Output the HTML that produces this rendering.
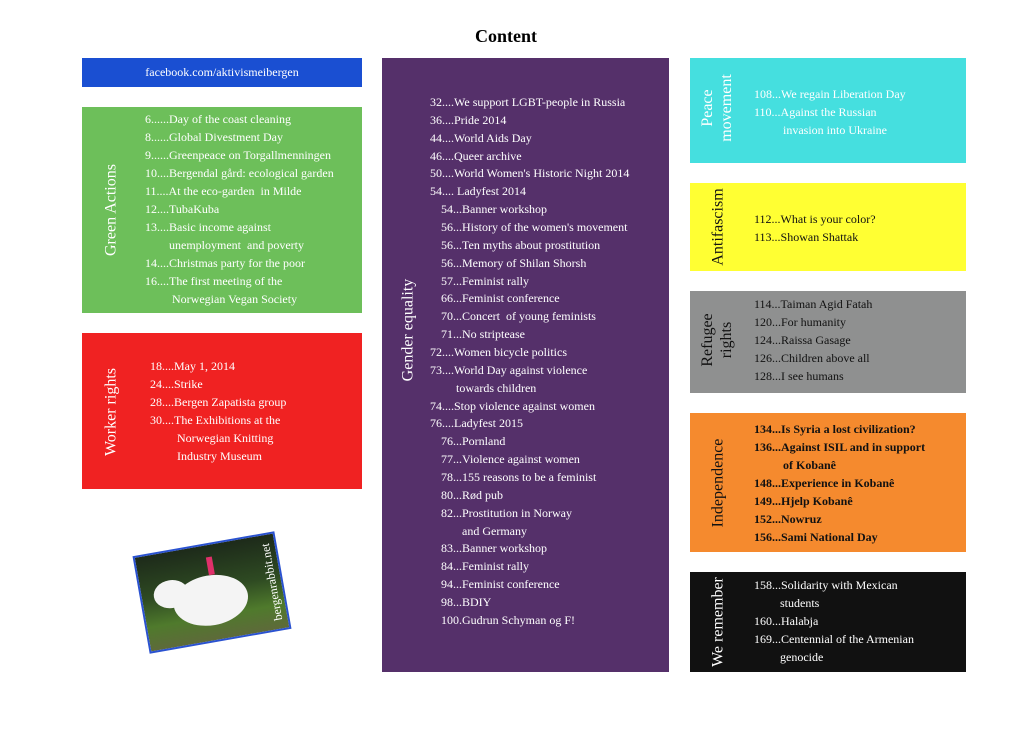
<!DOCTYPE html>
<html><head><meta charset="utf-8"><style>
body{margin:0;width:1024px;height:730px;background:#fff;position:relative;overflow:hidden;font-family:"Liberation Serif",serif;}
.b{position:absolute;}
.t{position:absolute;font-size:12px;line-height:18px;white-space:nowrap;}
.v{position:absolute;font-size:16px;line-height:19px;white-space:nowrap;text-align:center;transform:translate(-50%,-50%) rotate(-90deg);}
.w{color:#fff}.k{color:#111}
</style></head><body>
<div class="b" style="left:0;width:1012px;top:26px;text-align:center;font-size:18px;font-weight:bold">Content</div>

<div class="b" style="left:82px;top:58px;width:280px;height:29px;background:#1a4fd2;color:#fff;font-size:12px;line-height:29px;text-align:center">facebook.com/aktivismeibergen</div>

<div class="b" style="left:82px;top:107px;width:280px;height:206px;background:#6dbf5a"></div>
<div class="v w" style="left:111px;top:210px">Green Actions</div>
<div class="t w" style="left:145px;top:110px">6......Day of the coast cleaning<br>8......Global Divestment Day<br>9......Greenpeace on Torgallmenningen<br>10....Bergendal gård: ecological garden<br>11....At the eco-garden&nbsp; in Milde<br>12....TubaKuba<br>13....Basic income against<br><span style="padding-left:24px">unemployment&nbsp; and poverty</span><br>14....Christmas party for the poor<br>16....The first meeting of the<br><span style="padding-left:27px">Norwegian Vegan Society</span></div>

<div class="b" style="left:82px;top:333px;width:280px;height:156px;background:#f02222"></div>
<div class="v w" style="left:111px;top:412px">Worker rights</div>
<div class="t w" style="left:150px;top:357px">18....May 1, 2014<br>24....Strike<br>28....Bergen Zapatista group<br>30....The Exhibitions at the<br><span style="padding-left:27px">Norwegian Knitting</span><br><span style="padding-left:27px">Industry Museum</span></div>

<div class="b" style="left:140px;top:543px;width:140px;height:95px;transform:rotate(-10deg);background:linear-gradient(180deg,#1d2a1a 0%,#2e4a22 45%,#4f7a2c 75%,#5e6a3a 100%);border:2px solid #2a52d0;overflow:hidden">
<div style="position:absolute;left:30px;top:30px;width:75px;height:50px;background:#f4f4f4;border-radius:50%"></div>
<div style="position:absolute;left:12px;top:28px;width:35px;height:28px;background:#f4f4f4;border-radius:50%"></div>
<div style="position:absolute;left:70px;top:12px;width:6px;height:18px;background:#e0306a"></div>
<div style="position:absolute;right:-30px;top:40px;color:#fff;font-size:12px;transform:rotate(-90deg);white-space:nowrap">bergenrabbit.net</div>
</div>

<div class="b" style="left:382px;top:58px;width:287px;height:614px;background:#55306a"></div>
<div class="v w" style="left:408px;top:330px">Gender equality</div>
<div class="t w" style="left:430px;top:94px;line-height:17.86px">32....We support LGBT-people in Russia<br>36....Pride 2014<br>44....World Aids Day<br>46....Queer archive<br>50....World Women's Historic Night 2014<br>54.... Ladyfest 2014<br>
<span style="padding-left:11px">54...Banner workshop</span><br><span style="padding-left:11px">56...History of the women's movement</span><br><span style="padding-left:11px">56...Ten myths about prostitution</span><br><span style="padding-left:11px">56...Memory of Shilan Shorsh</span><br><span style="padding-left:11px">57...Feminist rally</span><br><span style="padding-left:11px">66...Feminist conference</span><br><span style="padding-left:11px">70...Concert&nbsp; of young feminists</span><br><span style="padding-left:11px">71...No striptease</span><br>72....Women bicycle politics<br>73....World Day against violence<br><span style="padding-left:26px">towards children</span><br>74....Stop violence against women<br>76....Ladyfest 2015<br>
<span style="padding-left:11px">76...Pornland</span><br><span style="padding-left:11px">77...Violence against women</span><br><span style="padding-left:11px">78...155 reasons to be a feminist</span><br><span style="padding-left:11px">80...Rød pub</span><br><span style="padding-left:11px">82...Prostitution in Norway</span><br><span style="padding-left:32px">and Germany</span><br><span style="padding-left:11px">83...Banner workshop</span><br><span style="padding-left:11px">84...Feminist rally</span><br><span style="padding-left:11px">94...Feminist conference</span><br><span style="padding-left:11px">98...BDIY</span><br><span style="padding-left:11px">100.Gudrun Schyman og F!</span></div>

<div class="b" style="left:690px;top:58px;width:276px;height:105px;background:#45dfdf"></div>
<div class="v w" style="left:717px;top:108px">Peace<br>movement</div>
<div class="t w" style="left:754px;top:85px">108...We regain Liberation Day<br>110...Against the Russian<br><span style="padding-left:29px">invasion into Ukraine</span></div>

<div class="b" style="left:690px;top:183px;width:276px;height:88px;background:#ffff33"></div>
<div class="v k" style="left:718px;top:227px">Antifascism</div>
<div class="t k" style="left:754px;top:210px">112...What is your color?<br>113...Showan Shattak</div>

<div class="b" style="left:690px;top:291px;width:276px;height:102px;background:#8f9090"></div>
<div class="v k" style="left:717px;top:340px">Refugee<br>rights</div>
<div class="t k" style="left:754px;top:295px">114...Taiman Agid Fatah<br>120...For humanity<br>124...Raissa Gasage<br>126...Children above all<br>128...I see humans</div>

<div class="b" style="left:690px;top:413px;width:276px;height:139px;background:#f58a2e"></div>
<div class="v k" style="left:718px;top:483px">Independence</div>
<div class="t k" style="left:754px;top:420px;font-weight:bold">134...Is Syria a lost civilization?<br>136...Against ISIL and in support<br><span style="padding-left:29px">of Kobanê</span><br>148...Experience in Kobanê<br>149...Hjelp Kobanê<br>152...Nowruz<br>156...Sami National Day</div>

<div class="b" style="left:690px;top:572px;width:276px;height:100px;background:#111"></div>
<div class="v w" style="left:718px;top:622px">We remember</div>
<div class="t w" style="left:754px;top:576px">158...Solidarity with Mexican<br><span style="padding-left:26px">students</span><br>160...Halabja<br>169...Centennial of the Armenian<br><span style="padding-left:26px">genocide</span></div>
</body></html>
